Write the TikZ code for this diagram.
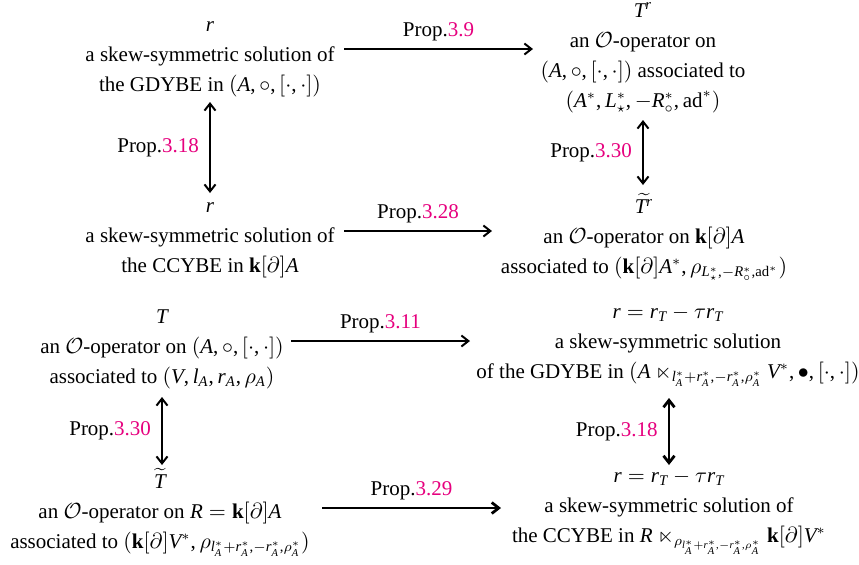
\documentclass[tikz,border=0pt]{standalone}
\usepackage{amsmath,amssymb}
\usepackage{fontspec}
\setmainfont{Liberation Serif}
\newfontfamily\libserfam{Liberation Serif}[NFSSFamily=libser]
\DeclareSymbolFont{tletters}{TU}{libser}{m}{it}
\DeclareSymbolFont{tupright}{TU}{libser}{m}{n}
\makeatletter
\count@=`A
\loop \Umathcode\count@=7 \symtletters \count@ \ifnum\count@<`Z \advance\count@ 1 \repeat
\count@=`a
\loop \Umathcode\count@=7 \symtletters \count@ \ifnum\count@<`z \advance\count@ 1 \repeat
\count@=`0
\loop \Umathcode\count@=0 \symtupright \count@ \ifnum\count@<`9 \advance\count@ 1 \repeat
\Umathcode`(=4 \symtupright `(
\Umathcode`)=5 \symtupright `)
\Umathcode`[=4 \symtupright `[
\Umathcode`]=5 \symtupright `]
\Umathcode`,=6 \symtupright `,
\Umathcode`+=2 \symtupright `+
\makeatother
\usetikzlibrary{arrows.meta}
\definecolor{proplink}{RGB}{230,0,126}
\newcommand{\pr}[1]{Prop.\textcolor{proplink}{#1}}
\tikzset{
  blk/.style={align=center, anchor=base, inner sep=0pt,
    font=\fontsize{10.5}{15}\selectfont},
  conn/.style={line width=1pt, {Straight Barb[length=3.5pt,width=5.5pt]}-{Straight Barb[length=3.5pt,width=5.5pt]}},
  hconn/.style={line width=1pt, -{Straight Barb[length=3.5pt,width=5.5pt]}},
  thick conn/.style={line width=1.4pt},
  hlbl/.style={midway, anchor=base, inner sep=0pt, yshift=6.5pt, font=\fontsize{10.5}{15}\selectfont},
  vlbl/.style={midway, anchor=east, inner sep=0pt, xshift=-5pt, font=\fontsize{10.5}{15}\selectfont},
}
\begin{document}
\lineskiplimit=-20pt
\begin{tikzpicture}[x=0.5pt, y=-0.5pt]
\path[use as bounding box] (0,0) rectangle (859,564);

% anchor=base is the baseline of the last line
\node[blk] (n1) at (210,91) {$r$\\ a skew-symmetric solution of\\ the GDYBE in $(A,\circ,[\cdot,\cdot])$};
\node[blk] (n2) at (643,107) {$T^{r}$\\ an $\mathcal{O}$-operator on\\ $(A,\circ,[\cdot,\cdot])$ associated to\\ $(A^{*},L^{*}_{\star},-R^{*}_{\circ},\mathrm{ad}^{*})$};
\node[blk] (n3) at (210,272) {$r$\\ a skew-symmetric solution of\\ the CCYBE in $\mathbf{k}[\partial]A$};
\node[blk] (n4) at (644,273) {$\widetilde{T^{r}}$\\ an $\mathcal{O}$-operator on $\mathbf{k}[\partial]A$\\ associated to $(\mathbf{k}[\partial]A^{*},\rho_{L^{*}_{\star},-R^{*}_{\circ},\mathrm{ad}^{*}})$};
\node[blk] (n5) at (162,383) {$T$\\ an $\mathcal{O}$-operator on $(A,\circ,[\cdot,\cdot])$\\ associated to $(V,l_{A},r_{A},\rho_{A})$};
\node[blk] (n6) at (668,378) {$r=r_{T}-\tau r_{T}$\\ a skew-symmetric solution\\ of the GDYBE in $(A\ltimes_{l^{*}_{A}+r^{*}_{A},-r^{*}_{A},\rho^{*}_{A}}V^{*},\bullet,[\cdot,\cdot])$};
\node[blk] (n7) at (160,548) {$\widetilde{T}$\\ an $\mathcal{O}$-operator on $R=\mathbf{k}[\partial]A$\\ associated to $(\mathbf{k}[\partial]V^{*},\rho_{l^{*}_{A}+r^{*}_{A},-r^{*}_{A},\rho^{*}_{A}})$};
\node[blk] (n8) at (669,542) {$r=r_{T}-\tau r_{T}$\\ a skew-symmetric solution of\\ the CCYBE in $R\ltimes_{\rho_{l^{*}_{A}+r^{*}_{A},-r^{*}_{A},\rho^{*}_{A}}}\mathbf{k}[\partial]V^{*}$};

% arrow end points
\coordinate (a1s) at (344,49);  \coordinate (a1e) at (533,49);
\coordinate (a2s) at (210,102); \coordinate (a2e) at (210,193);
\coordinate (a3s) at (643,120); \coordinate (a3e) at (643,185);
\coordinate (a4s) at (344,231); \coordinate (a4e) at (492,231);
\coordinate (a5s) at (291,341); \coordinate (a5e) at (470,341);
\coordinate (a6s) at (162,397); \coordinate (a6e) at (162,465);
\coordinate (a7s) at (669,398); \coordinate (a7e) at (669,465);
\coordinate (a8s) at (322,508); \coordinate (a8e) at (501,508);

\draw[hconn] (a1s) -- node[hlbl] {\pr{3.9}} (a1e);
\draw[conn] (a2s) -- node[vlbl] {\pr{3.18}} (a2e);
\draw[conn] (a3s) -- node[vlbl] {\pr{3.30}} (a3e);
\draw[hconn] (a4s) -- node[hlbl] {\pr{3.28}} (a4e);
\draw[hconn] (a5s) -- node[hlbl] {\pr{3.11}} (a5e);
\draw[conn] (a6s) -- node[vlbl] {\pr{3.30}} (a6e);
\draw[conn, thick conn] (a7s) -- node[vlbl] {\pr{3.18}} (a7e);
\draw[hconn, thick conn] (a8s) -- node[hlbl] {\pr{3.29}} (a8e);
\end{tikzpicture}
\end{document}
